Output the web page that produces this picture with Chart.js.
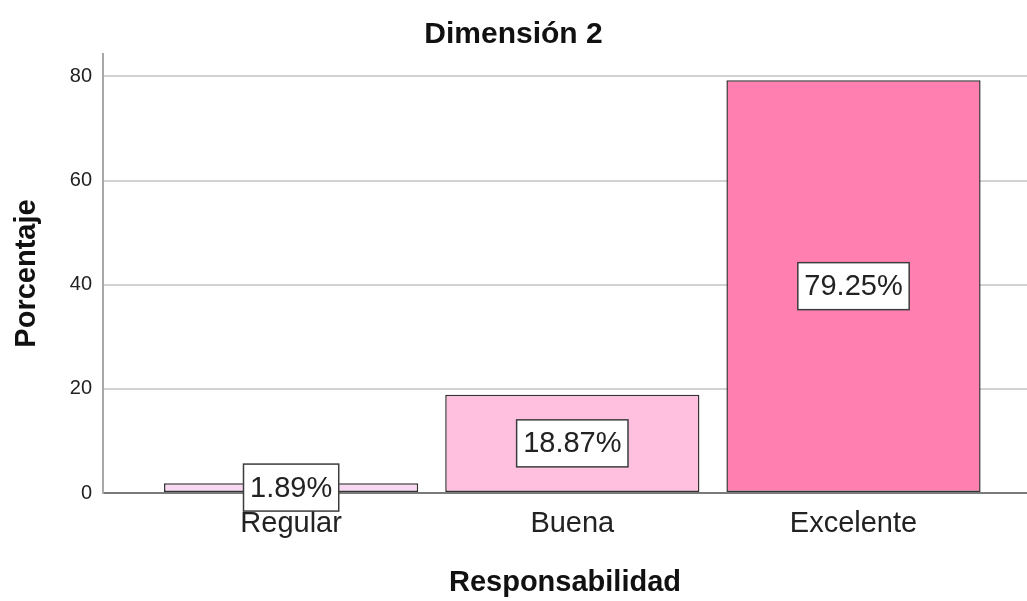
<!DOCTYPE html>
<html>
<head>
<meta charset="utf-8">
<script src="https://cdn.jsdelivr.net/npm/chart.js@4/dist/chart.umd.min.js"></script>
<style>
  html, body { margin: 0; padding: 0; background: #ffffff; }
  #wrap { width: 1027px; height: 601px; }
</style>
</head>
<body>
<div id="wrap"><canvas id="c" width="1027" height="601"></canvas></div>
<script>
// Responsabilidad — porcentaje por categoría
const categories = ['Regular', 'Buena', 'Excelente'];
const percentages = [1.89, 18.87, 79.25];
const barColors = ['#f9d8f1', '#ffc0df', '#ff80b0'];
const yTicks = [0, 20, 40, 60, 80];

const FONT = "'Liberation Sans', Arial, sans-serif";

// Boxed percentage label at the middle of each bar
const valueBoxes = {
  id: 'valueBoxes',
  afterDraw(chart) {
    const ctx = chart.ctx;
    const meta = chart.getDatasetMeta(0);
    ctx.save();
    ctx.font = '29px ' + FONT;
    ctx.textAlign = 'center';
    ctx.textBaseline = 'middle';
    meta.data.forEach((bar, i) => {
      const text = percentages[i].toFixed(2) + '%';
      const cx = bar.x;
      const cy = (bar.y + bar.base) / 2;
      const w = ctx.measureText(text).width + 13;
      const h = 47;
      ctx.fillStyle = '#ffffff';
      ctx.fillRect(cx - w / 2, cy - h / 2, w, h);
      ctx.lineWidth = 1.5;
      ctx.strokeStyle = '#3c3c3c';
      ctx.strokeRect(cx - w / 2, cy - h / 2, w, h);
      ctx.fillStyle = '#222222';
      ctx.fillText(text, cx, cy + 1);
    });
    ctx.restore();
  }
};

new Chart(document.getElementById('c'), {
  type: 'bar',
  data: {
    datasets: [{
      data: categories.map((c, i) => ({ x: i, y: percentages[i] })),
      backgroundColor: barColors,
      borderColor: '#333333',
      borderWidth: 1.5,
      borderSkipped: false,
      barPercentage: 0.904,
      categoryPercentage: 1.0
    }]
  },
  options: {
    responsive: false,
    animation: false,
    devicePixelRatio: 1,
    layout: { padding: 0 },
    plugins: {
      legend: { display: false },
      tooltip: { enabled: false },
      title: {
        display: true,
        text: 'Dimensión 2',
        color: '#111111',
        font: { family: FONT, size: 30, weight: 'bold' },
        padding: { top: 17, bottom: 1 }
      }
    },
    scales: {
      x: {
        type: 'linear',
        offset: false,
        min: -0.669,
        max: 2.617,
        afterBuildTicks: (s) => { s.ticks = categories.map((c, i) => ({ value: i })); },
        afterFit: (s) => { s.height = 108; },
        grid: { display: false, drawTicks: false, offset: false },
        border: { display: true, color: '#7a7a7a', width: 2 },
        ticks: {
          callback: (v) => categories[v],
          color: '#222222',
          font: { family: FONT, size: 29 },
          padding: 14,
          maxRotation: 0,
          autoSkip: false
        },
        title: {
          display: true,
          text: 'Responsabilidad',
          color: '#111111',
          font: { family: FONT, size: 29, weight: 'bold' },
          padding: { top: 0, bottom: 1 }
        }
      },
      y: {
        min: 0,
        max: 84.3,
        afterBuildTicks: (s) => { s.ticks = yTicks.map(v => ({ value: v })); },
        afterFit: (s) => { s.width = 103; },
        grid: { color: '#d2d2d2', lineWidth: 2, drawTicks: false },
        border: { display: true, color: '#a8a8a8', width: 2 },
        ticks: {
          color: '#222222',
          font: { family: FONT, size: 20 },
          padding: 11
        },
        title: {
          display: true,
          text: 'Porcentaje',
          color: '#111111',
          font: { family: FONT, size: 29, weight: 'bold' },
          padding: { top: 10, bottom: 0 }
        }
      }
    }
  },
  plugins: [valueBoxes]
});
</script>
</body>
</html>
